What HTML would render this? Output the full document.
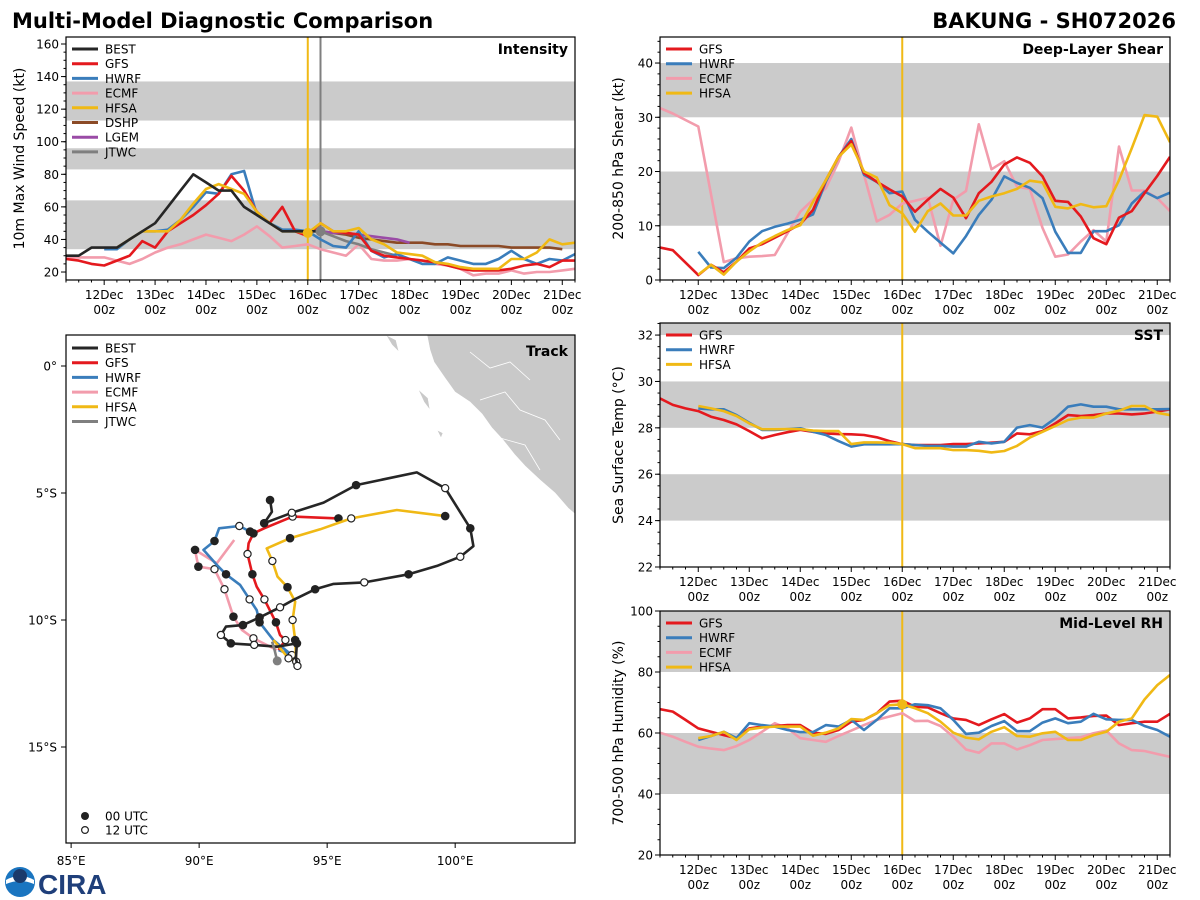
<!DOCTYPE html>
<html><head><meta charset="utf-8"><style>
html,body{margin:0;padding:0;background:#fff;}
svg{display:block;font-family:"DejaVu Sans","Liberation Sans",sans-serif;}
</style></head><body>
<svg id="fig" width="1200" height="900" viewBox="0 0 1200 900" xmlns="http://www.w3.org/2000/svg">
<text x="12" y="28" font-size="21" font-weight="bold" fill="#000">Multi-Model Diagnostic Comparison</text>
<text x="1176" y="28" font-size="21" font-weight="bold" fill="#000" text-anchor="end">BAKUNG - SH072026</text>
<g>
<circle cx="20" cy="882" r="15" fill="#1a75c0"/>
<path d="M6,880 Q20,872 34,880 L34,884 Q20,878 6,884Z" fill="#fff"/>
<circle cx="20" cy="876" r="7" fill="#1b3a6b"/>
<text x="38" y="894" font-size="28" font-weight="bold" fill="#1f3f7a" font-family="Liberation Sans, sans-serif">CIRA</text>
</g>
</svg>
<script>
// ---------- time axis: index 0 = 11Dec 06z, 6-hourly ----------
const dayLabels = ["12Dec","13Dec","14Dec","15Dec","16Dec","17Dec","18Dec","19Dec","20Dec","21Dec"];
const N = 41;
const n = null;
// ---------- Intensity (kt) ----------
const intBEST = [30,30,35,35,35,40,45,50,60,70,80,75,70,70,60,55,50,45,45,45,45];
const intGFS  = [28,27,25,24,27,30,39,35,45,50,55,61,68,79,70,57,50,60,45,42,50,45,44,43,33,30,29,28,27,26,24,22,21,21,21,22,24,25,23,27,27];
const intHWRF = [n,n,n,34,34,40,45,45,46,52,60,69,68,80,82,55,50,46,46,45,40,36,35,45,33,29,31,28,25,25,29,27,25,25,28,33,28,25,28,27,31];
const intECMF = [29,29,29,29,27,25,28,32,35,37,40,43,41,39,43,48,42,35,36,37,34,32,30,37,28,27,27,28,27,25,24,22,18,19,19,21,19,20,20,21,22];
const intHFSA = [n,n,n,n,35,40,45,45,45,52,62,71,74,71,68,57,50,45,45,44,50,45,45,47,40,37,32,31,30,26,25,23,22,22,22,28,28,32,40,37,38];
const intDSHP = [n,n,n,n,n,n,n,n,n,n,n,n,n,n,n,n,n,n,n,n,45,44,43,41,40,39,38,38,38,37,37,36,36,36,36,35,35,35,35,34];
const intLGEM = [n,n,n,n,n,n,n,n,n,n,n,n,n,n,n,n,n,n,n,n,45,44,44,43,42,41,40,38];
const intJTWC = [n,n,n,n,n,n,n,n,n,n,n,n,n,n,n,n,n,n,n,n,45,42,39,37,34,32,30];
const intBands = [[34,64],[83,96],[113,137]];
const intTicks = [20,40,60,80,100,120,140,160];
// ---------- Shear (kt) ----------
const shrGFS  = [6.0,5.5,3.2,0.9,2.8,1.4,3.4,5.8,6.6,7.8,9.0,10.3,12.9,18.4,22.7,25.6,19.7,18.1,16.7,15.4,12.6,14.8,16.8,15.2,11.4,16.0,18.1,21.3,22.6,21.6,19.1,14.6,14.4,11.7,7.7,6.6,11.5,12.7,16.0,19.2,22.7];
const shrHWRF = [n,n,n,5.2,2.3,2.2,4.1,7.1,9.0,9.8,10.4,11.1,12.1,18.1,22.7,26.0,19.4,18.1,16.0,16.3,11.1,8.9,6.9,4.9,8.1,12.0,14.8,19.1,17.9,17.0,15.1,8.9,5.0,5.0,9.0,9.0,10.1,14.1,16.3,15.1,16.1];
const shrECMF = [31.7,30.7,29.5,28.3,15.8,3.3,4.0,4.3,4.4,4.6,8.6,12.6,14.8,16.9,21.8,28.1,19.4,10.8,12.0,14.1,14.6,15.2,6.3,14.8,16.4,28.7,20.4,21.9,17.2,16.8,9.6,4.3,4.7,7.1,9.2,7.1,24.6,16.5,16.5,15.1,12.7];
const shrHFSA = [n,n,n,1.0,2.8,1.0,3.4,5.3,6.9,8.1,9.2,10.1,14.4,18.4,22.7,25.0,20.0,18.9,13.8,12.3,8.9,12.7,14.1,11.9,11.9,14.6,15.4,16.0,16.8,18.3,18.0,13.5,13.2,14.0,13.4,13.6,18.4,24.3,30.4,30.1,25.4];
const shrBands = [[10,20],[30,40]];
const shrTicks = [0,10,20,30,40];
// ---------- SST (C) ----------
const sstGFS  = [29.27,28.99,28.84,28.72,28.48,28.34,28.15,27.86,27.55,27.69,27.81,27.91,27.83,27.76,27.73,27.72,27.69,27.59,27.43,27.30,27.26,27.26,27.26,27.30,27.30,27.33,27.36,27.40,27.76,27.72,27.86,28.19,28.55,28.51,28.55,28.62,28.62,28.58,28.62,28.70,28.80];
const sstHWRF = [n,n,n,28.84,28.80,28.80,28.55,28.22,27.91,27.91,27.94,27.98,27.83,27.69,27.43,27.19,27.29,27.29,27.29,27.30,27.26,27.22,27.22,27.19,27.19,27.40,27.33,27.40,28.01,28.12,28.01,28.41,28.91,29.01,28.91,28.91,28.80,28.80,28.80,28.80,28.81];
const sstHFSA = [n,n,n,28.94,28.84,28.72,28.51,28.19,27.94,27.94,27.95,27.94,27.88,27.86,27.86,27.30,27.37,27.37,27.36,27.30,27.12,27.12,27.12,27.04,27.04,27.01,26.94,27.0,27.22,27.58,27.83,28.08,28.34,28.44,28.44,28.62,28.74,28.94,28.94,28.65,28.55];
const sstBands = [[24,26],[28,30],[32,34]];
const sstTicks = [22,24,26,28,30,32];
// ---------- Mid-level RH (%) ----------
const rhGFS  = [67.8,67.0,64.3,61.5,60.4,59.3,58.3,61.5,62.1,62.3,62.6,62.6,60.1,59.7,61.0,63.7,64.3,66.5,70.3,70.6,68.6,68.4,66.5,64.8,64.3,62.6,64.5,66.2,63.4,64.8,67.8,67.8,64.8,65.1,65.6,65.7,62.6,63.2,63.7,63.7,66.3];
const rhHWRF = [n,n,n,57.7,59.0,60.4,58.3,63.2,62.6,62.1,61.0,60.3,60.3,62.6,62.1,64.3,61.0,64.3,68.1,68.1,69.4,69.1,68.1,64.3,59.7,60.1,62.3,63.9,60.6,60.6,63.4,64.8,63.2,63.7,66.3,64.5,64.3,64.3,62.3,61.0,58.8];
const rhECMF = [60.1,58.8,57.1,55.5,54.9,54.4,55.7,57.7,60.4,63.2,61.5,58.3,57.7,57.1,59.0,60.8,62.6,64.3,65.4,66.5,63.9,64.0,62.3,58.8,54.6,53.5,56.6,56.6,54.6,56.0,57.7,58.0,58.3,58.6,59.9,60.8,56.6,54.4,54.1,53.1,52.2];
const rhHFSA = [n,n,n,58.3,59.0,60.4,57.7,61.2,61.8,62.1,62.1,62.1,59.1,60.1,61.5,64.6,64.3,66.5,69.1,69.4,68.1,66.5,63.7,60.1,58.5,57.9,60.4,61.9,59.0,58.8,59.9,60.4,57.7,57.7,59.3,60.4,63.7,64.8,71.0,75.7,79.0];
const rhBands = [[40,60],[80,100]];
const rhTicks = [20,40,60,80,100];
// ---------- Track (lon E, lat) ----------
const trkBESTlon = [92.77,92.84,92.54,93.62,94.86,96.13,98.50,99.61,100.59,100.71,100.20,99.29,98.18,96.45,95.25,94.53,93.68,93.16,92.36,91.71,91.05,90.85,91.24,92.15,93.04,93.82,93.78,93.84];
const trkBESTlat = [-5.28,-5.74,-6.19,-5.78,-5.38,-4.69,-4.19,-4.81,-6.39,-7.09,-7.51,-7.87,-8.20,-8.52,-8.58,-8.79,-9.21,-9.50,-9.90,-10.20,-10.26,-10.59,-10.92,-10.98,-11.05,-10.92,-11.51,-11.81];
const trkBESTmk  = ["f","","f","o","","f","","o","f","","o","","f","o","","f","","o","f","f","","o","f","o","","f","","o"];
const trkGFSlon = [93.10,93.37,93.16,93.00,92.55,92.25,92.08,91.89,91.93,92.12,92.54,93.65,95.44];
const trkGFSlat = [-11.18,-10.79,-10.59,-10.09,-9.19,-8.69,-8.20,-7.40,-6.98,-6.59,-6.39,-5.93,-6.00];
const trkGFSmk  = ["","o","","f","o","","f","o","","f","","o","f"];
const trkHWRFlon = [93.10,93.62,92.90,92.36,92.25,91.97,91.60,91.05,90.69,90.17,90.60,90.78,91.57,91.99];
const trkHWRFlat = [-11.18,-11.38,-10.79,-10.09,-9.61,-9.19,-8.62,-8.20,-7.83,-7.24,-6.89,-6.39,-6.30,-6.52];
const trkHWRFmk  = ["","o","","f","","o","","f","","","f","","o","f"];
const trkECMFlon = [93.03,92.12,91.67,91.34,90.99,90.60,89.97,89.84,90.69,91.37];
const trkECMFlat = [-11.18,-10.72,-10.39,-9.87,-8.79,-8.00,-7.90,-7.24,-7.77,-6.85];
const trkECMFmk  = ["","o","","f","o","o","f","f","",""];
const trkHFSAlon = [92.90,93.49,93.79,93.75,93.65,93.75,93.45,93.06,92.86,92.64,93.55,94.73,95.94,97.72,99.61];
const trkHFSAlat = [-10.79,-11.51,-11.64,-10.79,-10.00,-9.28,-8.71,-8.29,-7.68,-7.18,-6.78,-6.43,-6.00,-5.67,-5.91];
const trkHFSAmk  = ["","o","o","f","o","","f","","o","","f","","o","","f"];
const trkJTWClon = [93.05,92.95,92.85];
const trkJTWClat = [-11.61,-11.20,-10.85];
const latTicks = [0,-5,-10,-15];
const lonTicks = [85,90,95,100];

const C = {BEST:"#262626",GFS:"#e4191e",HWRF:"#3a7dbb",ECMF:"#f29cac",HFSA:"#f0b915",DSHP:"#8b4a26",LGEM:"#9a4ba6",JTWC:"#7f7f7f"};
const svg = document.getElementById("fig");
const NS = "http://www.w3.org/2000/svg";
function mk(tag, attrs, parent){const e=document.createElementNS(NS,tag);for(const k in attrs)e.setAttribute(k,attrs[k]);(parent||svg).appendChild(e);return e;}
let clipId=0;

function timePanel(o){
  const g = mk("g",{});
  
  
  const xS = t => o.x + t/(N-1)*o.w;
  const yS = v => o.y + o.h - (v-o.ymin)/(o.ymax-o.ymin)*o.h;
  const cid = "clip"+(clipId++);
  const cp = mk("clipPath",{id:cid},g); mk("rect",{x:o.x,y:o.y,width:o.w,height:o.h},cp);
  const pg = mk("g",{"clip-path":"url(#"+cid+")"},g);
  o.bands.forEach(b=>{
    const r = mk("rect",{x:o.x,y:yS(b[1]),width:o.w,height:yS(b[0])-yS(b[1]),fill:"#cbcbcb"},pg);
    
    
  });
  (o.vlines||[]).forEach(v=>{mk("line",{x1:xS(v[0]),x2:xS(v[0]),y1:o.y,y2:o.y+o.h,stroke:v[1],"stroke-width":2},pg);});
  o.series.forEach(s=>{
    let d="",pen=false;
    s.data.forEach((v,i)=>{ if(v===null||v===undefined){pen=false;return;} d+=(pen?"L":"M")+xS(i).toFixed(1)+","+yS(v).toFixed(1); pen=true;});
    const p = mk("path",{d:d,fill:"none",stroke:C[s.k],"stroke-width":2.6,"stroke-linejoin":"round"},pg);
    
    
  });
  (o.dots||[]).forEach(dt=>{mk("circle",{cx:xS(dt[0]),cy:yS(dt[1]),r:5,fill:dt[2]},pg);});
  mk("rect",{x:o.x,y:o.y,width:o.w,height:o.h,fill:"none",stroke:"#000","stroke-width":1.2},g);
  // y ticks
  for(let v=Math.ceil(o.ymin/o.minor)*o.minor; v<=o.ymax; v+=o.minor){
    mk("line",{x1:o.x-2.5,x2:o.x,y1:yS(v),y2:yS(v),stroke:"#000","stroke-width":1},g);
  }
  o.ticks.forEach(v=>{
    mk("line",{x1:o.x-5,x2:o.x,y1:yS(v),y2:yS(v),stroke:"#000","stroke-width":1},g);
    const t = mk("text",{x:o.x-7,y:yS(v)+4.5,"font-size":12,"text-anchor":"end"},g); t.textContent=v;
  });
  // x ticks
  for(let i=0;i<N;i++){
    const maj = (i-3)%4===0;
    mk("line",{x1:xS(i),x2:xS(i),y1:o.y+o.h,y2:o.y+o.h+(maj?5:2.5),stroke:"#000","stroke-width":1},g);
    if(maj){
      const t1=mk("text",{x:xS(i),y:o.y+o.h+19,"font-size":12,"text-anchor":"middle"},g); t1.textContent=dayLabels[(i-3)/4];
      const t2=mk("text",{x:xS(i),y:o.y+o.h+34,"font-size":12,"text-anchor":"middle"},g); t2.textContent="00z";
    }
  }
  const yl = mk("text",{x:0,y:0,"font-size":14,"text-anchor":"middle",transform:"translate("+o.ylx+","+(o.y+o.h/2)+") rotate(-90)"},g);
  yl.textContent=o.ylabel;
  
  
  const tt = mk("text",{x:o.x+o.w-7,y:o.y+17,"font-size":14,"font-weight":"bold","text-anchor":"end"},g);
  tt.textContent=o.title;
  
  
  legend(g,o.x+6,o.y+12,o.legend);
  return g;
}
function legend(g,x,y,keys){
  keys.forEach((k,j)=>{
    const yy=y+j*14.7;
    const lg = mk("g",{},g);
    
    
    mk("line",{x1:x,x2:x+26,y1:yy,y2:yy,stroke:C[k],"stroke-width":3},lg);
    const t=mk("text",{x:x+33,y:yy+4.5,"font-size":12},lg); t.textContent=k;
  });
}

timePanel({name:"intensity-panel",x:66,y:37,w:509,h:243,ymin:15.1,ymax:164.3,minor:5,ticks:intTicks,bands:intBands,
  ylabel:"10m Max Wind Speed (kt)",ylx:24,title:"Intensity",
  vlines:[[19,C.HFSA],[20,C.JTWC]],
  series:[{k:"ECMF",data:intECMF},{k:"DSHP",data:intDSHP},{k:"LGEM",data:intLGEM},{k:"JTWC",data:intJTWC},{k:"HWRF",data:intHWRF},{k:"GFS",data:intGFS},{k:"HFSA",data:intHFSA},{k:"BEST",data:intBEST}],
  dots:[[19,intHFSA[19],C.HFSA],[20,intJTWC[20],C.JTWC]],
  legend:["BEST","GFS","HWRF","ECMF","HFSA","DSHP","LGEM","JTWC"]});
timePanel({name:"shear-panel",x:660,y:37,w:510,h:243,ymin:0,ymax:44.8,minor:2,ticks:shrTicks,bands:shrBands,
  ylabel:"200-850 hPa Shear (kt)",ylx:623,title:"Deep-Layer Shear",
  vlines:[[19,C.HFSA]],
  series:[{k:"ECMF",data:shrECMF},{k:"HWRF",data:shrHWRF},{k:"GFS",data:shrGFS},{k:"HFSA",data:shrHFSA}],
  legend:["GFS","HWRF","ECMF","HFSA"]});
timePanel({name:"sst-panel",x:660,y:323,w:510,h:244,ymin:22,ymax:32.52,minor:0.5,ticks:sstTicks,bands:sstBands,
  ylabel:"Sea Surface Temp (°C)",ylx:623,title:"SST",
  vlines:[[19,C.HFSA]],
  series:[{k:"GFS",data:sstGFS},{k:"HWRF",data:sstHWRF},{k:"HFSA",data:sstHFSA}],
  legend:["GFS","HWRF","HFSA"]});
timePanel({name:"rh-panel",x:660,y:611,w:510,h:244,ymin:20,ymax:100,minor:5,ticks:rhTicks,bands:rhBands,
  ylabel:"700-500 hPa Humidity (%)",ylx:623,title:"Mid-Level RH",
  vlines:[[19,C.HFSA]],
  series:[{k:"ECMF",data:rhECMF},{k:"GFS",data:rhGFS},{k:"HWRF",data:rhHWRF},{k:"HFSA",data:rhHFSA}],
  dots:[[19,rhHFSA[19],C.HFSA]],
  legend:["GFS","HWRF","ECMF","HFSA"]});

// ---------- Track panel ----------
(function(){
  const X0=66,Y0=335,W=509,H=508,LON0=84.8,LON1=104.68,LAT0=1.22,LAT1=-18.78;
  const xS=lo=>X0+(lo-LON0)/(LON1-LON0)*W;
  const yS=la=>Y0+(LAT0-la)/(LAT0-LAT1)*H;
  const g=mk("g",{});
  
  
  const cp=mk("clipPath",{id:"trkclip"},g); mk("rect",{x:X0,y:Y0,width:W,height:H},cp);
  const pg=mk("g",{"clip-path":"url(#trkclip)"},g);
  const land=mk("path",{d:"M427,335 L430,350 L434,362 L445,378 L455,392 L470,402 L482,414 L492,428 L503,440 L515,455 L525,466 L540,480 L555,493 L568,508 L575,514 L575,335Z M386,335 L392,345 L399,352 L396,340Z M418,389 L424,402 L430,410 L428,398Z M437,430 L441,438 L443,433Z",fill:"#c9c9c9",stroke:"#ffffff","stroke-width":0.6},pg);
  
  
  mk("path",{d:"M470,352 L490,368 L510,362 L530,380 M480,400 L505,392 L520,410 L545,420 L560,440 M500,438 L525,445 L540,470",fill:"none",stroke:"#fff","stroke-width":0.8},pg);
  function track(k,lon,lat,mkk){
    let d="";
    lon.forEach((v,i)=>{d+=(i?"L":"M")+xS(v).toFixed(1)+","+yS(lat[i]).toFixed(1);});
    const p=mk("path",{d:d,fill:"none",stroke:C[k],"stroke-width":2.6,"stroke-linejoin":"round"},pg);
    
    
    if(mkk) lon.forEach((v,i)=>{
      if(mkk[i]==="f") mk("circle",{cx:xS(v),cy:yS(lat[i]),r:4.3,fill:"#222"},pg);
      else if(mkk[i]==="o") mk("circle",{cx:xS(v),cy:yS(lat[i]),r:3.6,fill:"#fff",stroke:"#222","stroke-width":1.2},pg);
    });
  }
  track("ECMF",trkECMFlon,trkECMFlat,trkECMFmk);
  track("HWRF",trkHWRFlon,trkHWRFlat,trkHWRFmk);
  track("GFS",trkGFSlon,trkGFSlat,trkGFSmk);
  track("HFSA",trkHFSAlon,trkHFSAlat,trkHFSAmk);
  track("BEST",trkBESTlon,trkBESTlat,trkBESTmk);
  track("JTWC",trkJTWClon,trkJTWClat,null);
  mk("circle",{cx:xS(trkJTWClon[0]),cy:yS(trkJTWClat[0]),r:4.5,fill:C.JTWC},pg);
  mk("rect",{x:X0,y:Y0,width:W,height:H,fill:"none",stroke:"#000","stroke-width":1.2},g);
  latTicks.forEach(v=>{
    mk("line",{x1:X0-5,x2:X0,y1:yS(v),y2:yS(v),stroke:"#000"},g);
    const t=mk("text",{x:X0-9,y:yS(v)+4.5,"font-size":12,"text-anchor":"end"},g);
    t.textContent=(v===0?"0°":(-v)+"°S");
  });
  lonTicks.forEach(v=>{
    mk("line",{x1:xS(v),x2:xS(v),y1:Y0+H,y2:Y0+H+5,stroke:"#000"},g);
    const t=mk("text",{x:xS(v),y:Y0+H+22,"font-size":12,"text-anchor":"middle"},g);
    t.textContent=v+"°E";
  });
  const tt=mk("text",{x:X0+W-7,y:Y0+21,"font-size":14,"font-weight":"bold","text-anchor":"end"},g);
  tt.textContent="Track";
  
  
  legend(g,X0+6,Y0+13,["BEST","GFS","HWRF","ECMF","HFSA","JTWC"]);
  const l1=mk("g",{},g);
  
  
  mk("circle",{cx:85,cy:816,r:4,fill:"#222"},l1);
  const a=mk("text",{x:105,y:820.5,"font-size":12},l1); a.textContent="00 UTC";
  const l2=mk("g",{},g);
  
  
  mk("circle",{cx:85,cy:830,r:3.4,fill:"#fff",stroke:"#222","stroke-width":1.2},l2);
  const b=mk("text",{x:105,y:834.5,"font-size":12},l2); b.textContent="12 UTC";
})();
</script>
</body></html>
